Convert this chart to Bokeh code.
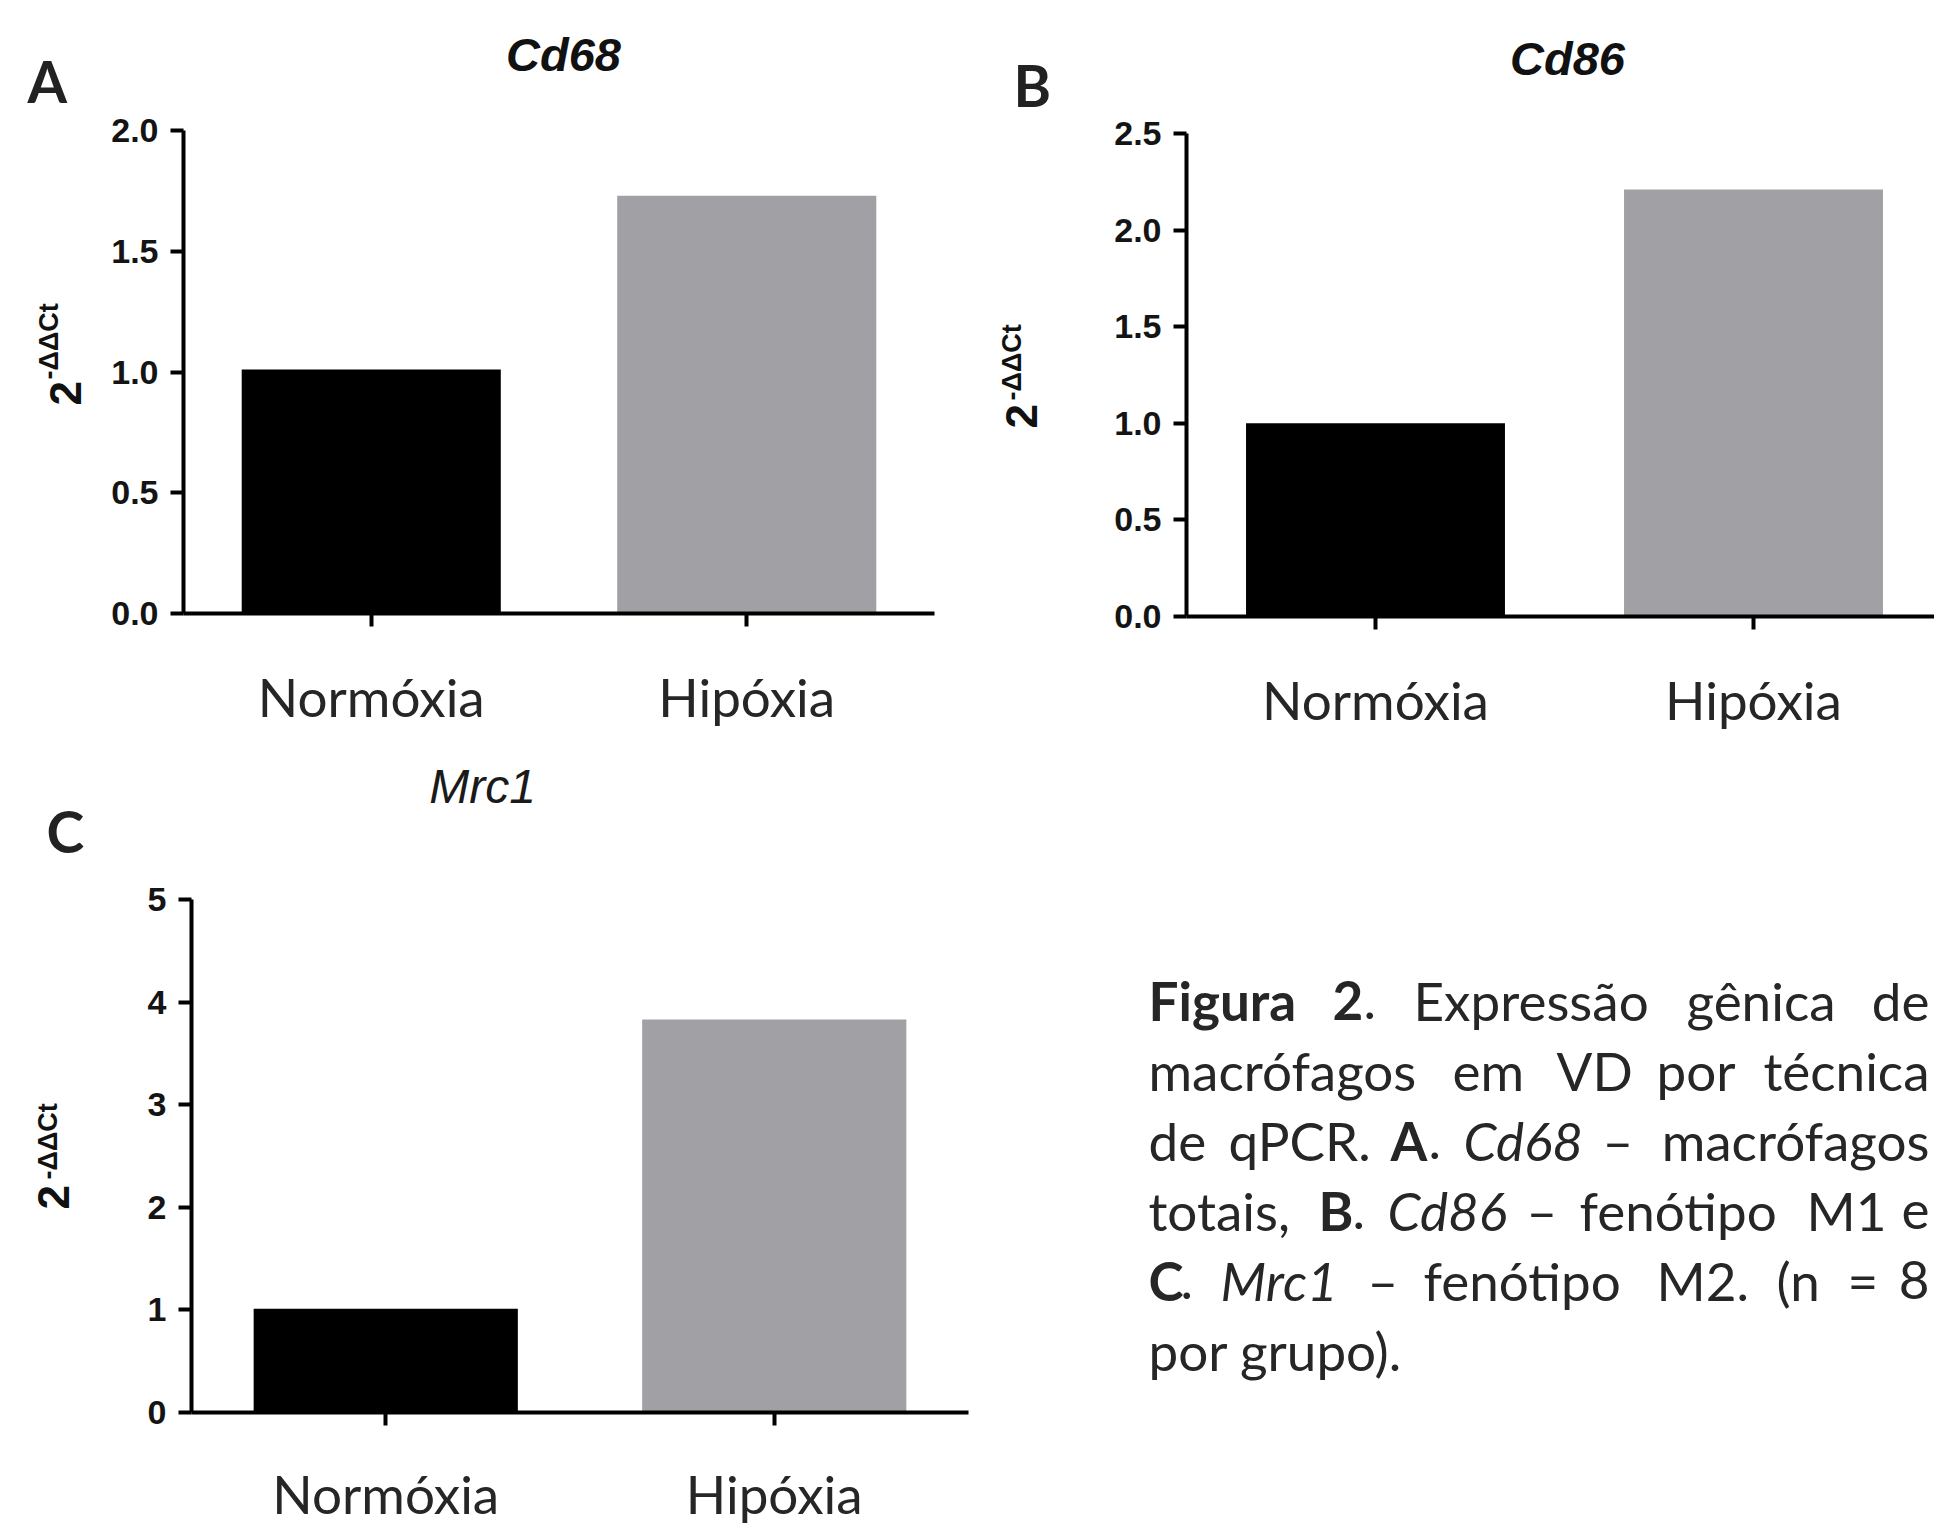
import math
from bokeh.plotting import figure
from bokeh.models import Range1d, FixedTicker, ColumnDataSource, NumeralTickFormatter
from bokeh.layouts import row, column
from bokeh.embed import file_html
from bokeh.resources import INLINE

# ---------------- data ----------------
categories = ["Normóxia", "Hipóxia"]
cd68_values = [1.01, 1.73]
cd86_values = [1.00, 2.21]
mrc1_values = [1.01, 3.83]
bar_colors = ["#000000", "#a1a0a5"]

cd68_ticks = [0.0, 0.5, 1.0, 1.5, 2.0]
cd86_ticks = [0.0, 0.5, 1.0, 1.5, 2.0, 2.5]
mrc1_ticks = [0, 1, 2, 3, 4, 5]

titles = ["Cd68", "Cd86", "Mrc1"]
panel_letters = ["A", "B", "C"]
ylabel_base = "2"
ylabel_sup = "-\u0394\u0394Ct"

caption_lines = [
    [("Figura", "bold"), ("2", "bold"), (".", "normal"), ("Expressão", "normal"), ("gênica", "normal"), ("de", "normal")],
    [("macrófagos", "normal"), ("em", "normal"), ("VD", "normal"), ("por", "normal"), ("técnica", "normal")],
    [("de", "normal"), ("qPCR.", "normal"), ("A", "bold"), (".", "normal"), ("Cd68", "italic"), ("–", "normal"), ("macrófagos", "normal")],
    [("totais,", "normal"), ("B", "bold"), (".", "normal"), ("Cd86", "italic"), ("–", "normal"), ("fenótipo", "normal"), ("M1", "normal"), ("e", "normal")],
    [("C", "bold"), (".", "normal"), ("Mrc1", "italic"), ("–", "normal"), ("fenótipo", "normal"), ("M2.", "normal"), ("(n", "normal"), ("=", "normal"), ("8", "normal")],
    [("por grupo).", "normal")],
]
# word start positions (page px) of the justified caption; None = right-aligned at the right margin
caption_x = [
    [1148, 1332, 1363, 1413, 1686, None],
    [1148, 1452, 1556, 1656, None],
    [1148, 1228, 1390, 1428, 1463, 1602, None],
    [1148, 1318, 1352, 1387, 1526, 1579, 1806, None],
    [1148, 1180, 1220, 1367, 1423, 1656, 1776, 1847, None],
    [1148],
]
caption_baselines = [1018, 1088, 1158, 1228, 1298, 1368]
CAPTION_RIGHT = 1929

ARIAL = "Liberation Sans"
CAL = "Lato"
CAL_SIZE = "53px"

# measured offset of the rendered baseline (fraction of the font size) to compensate
BASELINE_K = 0.34
BASELINE_K_ROT = 0.38


def draw_texts(p, items, conv=None):
    cols = dict(x=[], y=[], text=[], font=[], size=[], style=[], align=[], angle=[], color=[])
    for it in items:
        X, Y = it["X"], it["Y"]
        size = it.get("size", CAL_SIZE)
        px = float(size.replace("px", ""))
        ang = it.get("angle", 0.0)
        if ang == 0.0:
            Y = Y - BASELINE_K * px
        else:
            X = X - BASELINE_K_ROT * px
        if conv is not None:
            X, Y = conv(X, Y)
        cols["x"].append(X)
        cols["y"].append(Y)
        cols["text"].append(it["text"])
        cols["font"].append(it.get("font", CAL))
        cols["size"].append(size)
        cols["style"].append(it.get("style", "normal"))
        cols["align"].append(it.get("align", "left"))
        cols["angle"].append(ang)
        cols["color"].append(it.get("color", "#262626"))
    p.text(x="x", y="y", text="text", text_font="font", text_font_size="size",
           text_font_style="style", text_align="align", angle="angle",
           text_color="color", text_baseline="alphabetic", source=ColumnDataSource(cols))


def page_fig(x0, y0, w, h, bl=0, br=0):
    """A plain figure whose data coordinates are page pixels (y downwards)."""
    p = figure(width=w, height=h, x_range=Range1d(x0 + bl, x0 + w - br), y_range=Range1d(y0 + h, y0),
               min_border_left=bl, min_border_right=br, min_border_top=0, min_border_bottom=0,
               x_axis_location=None, y_axis_location=None, toolbar_location=None,
               output_backend="svg", title=None)
    p.grid.visible = False
    p.outline_line_color = None
    return p


def make_panel(values, ticks, ymax, px_per_unit, ox, oy, w, h, bl, br, bt, bb, bar_width, fmt,
               x_bounds=None, x_standoff=38):
    frame_w = w - bl - br
    xmax = frame_w / px_per_unit
    p = figure(width=w, height=h, x_range=Range1d(0, xmax), y_range=Range1d(0, ymax),
               min_border_left=bl, min_border_right=br, min_border_top=bt, min_border_bottom=bb,
               output_backend="svg", toolbar_location=None, title=None)
    xs = [i + 0.5 for i in range(len(categories))]
    src = ColumnDataSource(dict(x=xs, top=values, color=bar_colors, cat=categories))
    p.vbar(x="x", top="top", bottom=0, width=bar_width, source=src,
           fill_color="color", line_color=None)
    p.grid.visible = False
    p.outline_line_color = None
    for ax in (p.xaxis[0], p.yaxis[0]):
        ax.axis_line_width = 4
        ax.axis_line_color = "black"
        ax.major_tick_line_width = 4
        ax.major_tick_line_color = "black"
        ax.major_tick_out = 13
        ax.major_tick_in = 0
        ax.minor_tick_line_color = None
    if x_bounds is not None:
        p.xaxis.bounds = x_bounds
    p.xaxis.ticker = FixedTicker(ticks=xs)
    p.xaxis.major_label_overrides = {x: c for x, c in zip(xs, categories)}
    p.xaxis.major_label_text_font = CAL
    p.xaxis.major_label_text_font_size = CAL_SIZE
    p.xaxis.major_label_text_color = "#262626"
    p.xaxis.major_label_standoff = x_standoff
    p.yaxis.ticker = FixedTicker(ticks=ticks)
    p.yaxis.formatter = NumeralTickFormatter(format=fmt)
    p.yaxis.major_label_text_font = ARIAL
    p.yaxis.major_label_text_font_style = "bold"
    p.yaxis.major_label_text_font_size = "34px"
    p.yaxis.major_label_text_color = "#141414"
    p.yaxis.major_label_standoff = 12

    L = ox + bl
    B = oy + h - bb
    T = oy + bt

    def at(X, Y):
        return ((X - L) / px_per_unit, (B - Y) / (B - T) * ymax)
    return p, at


ROW1_H = 750
TITLE_H = 108

# ---------------- panel A ----------------
ylabA = page_fig(0, 0, 100, ROW1_H)
draw_texts(ylabA, [
    dict(X=27, Y=100, text=panel_letters[0], style="bold", size="57px", color="#222222"),
    dict(X=82, Y=405, text=ylabel_base, font=ARIAL, size="44px", style="bold", angle=math.pi / 2, color="#111111"),
    dict(X=59, Y=379, text=ylabel_sup, font=ARIAL, size="27px", style="bold", angle=math.pi / 2, color="#111111"),
])
titleA = page_fig(100, 0, 870, TITLE_H, bl=83, br=36)
draw_texts(titleA, [
    dict(X=563, Y=70, text=titles[0], font=ARIAL, size="47px", style="bold italic", align="center", color="#111111"),
])
pA, atA = make_panel(cd68_values, cd68_ticks, 2.0, 375.5, ox=100, oy=TITLE_H, w=870, h=ROW1_H - TITLE_H,
                     bl=83, br=36, bt=22, bb=ROW1_H - TITLE_H - 22 - 483, bar_width=0.69, fmt="0.0")

# ---------------- panel B ----------------
ylabB = page_fig(970, 0, 130, ROW1_H)
draw_texts(ylabB, [
    dict(X=1013, Y=104, text=panel_letters[1], style="bold", size="57px", color="#222222"),
    dict(X=1038, Y=428, text=ylabel_base, font=ARIAL, size="44px", style="bold", angle=math.pi / 2, color="#111111"),
    dict(X=1022, Y=400, text=ylabel_sup, font=ARIAL, size="27px", style="bold", angle=math.pi / 2, color="#111111"),
])
titleB = page_fig(1100, 0, 834, TITLE_H, bl=86, br=0)
draw_texts(titleB, [
    dict(X=1567, Y=74, text=titles[1], font=ARIAL, size="47px", style="bold italic", align="center", color="#111111"),
])
pB, atB = make_panel(cd86_values, cd86_ticks, 2.5, 378.0, ox=1100, oy=TITLE_H, w=834, h=ROW1_H - TITLE_H,
                     bl=86, br=0, bt=25, bb=ROW1_H - TITLE_H - 25 - 483, bar_width=0.685, fmt="0.0")

# ---------------- panel C (+ caption inside its frame) ----------------
ROW2_Y = ROW1_H
ROW2_H = 1527 - ROW1_H
TITLEC_H = 120
ylabC = page_fig(0, ROW2_Y, 100, ROW2_H)
draw_texts(ylabC, [
    dict(X=46, Y=850, text=panel_letters[2], style="bold", size="57px", color="#222222"),
    dict(X=70, Y=1209, text=ylabel_base, font=ARIAL, size="44px", style="bold", angle=math.pi / 2, color="#111111"),
    dict(X=58, Y=1179, text=ylabel_sup, font=ARIAL, size="27px", style="bold", angle=math.pi / 2, color="#111111"),
])
titleC = page_fig(100, ROW2_Y, 1834, TITLEC_H, bl=91, br=0)
draw_texts(titleC, [
    dict(X=482, Y=802, text=titles[2], font=ARIAL, size="48px", style="italic", align="center", color="#1a1a1a"),
])
pC_h = ROW2_H - TITLEC_H
pC, atC = make_panel(mrc1_values, mrc1_ticks, 5, 388.5, ox=100, oy=ROW2_Y + TITLEC_H, w=1834, h=pC_h,
                     bl=91, br=0, bt=29, bb=pC_h - 29 - 513, bar_width=0.68, fmt="0",
                     x_bounds=(0, 2), x_standoff=36)

cap_items = []
for words, xs_line, yb in zip(caption_lines, caption_x, caption_baselines):
    for (w_, st), xw in zip(words, xs_line):
        if xw is None:
            cap_items.append(dict(X=CAPTION_RIGHT, Y=yb, text=w_, style=st, align="right"))
        else:
            cap_items.append(dict(X=xw, Y=yb, text=w_, style=st, align="left"))
draw_texts(pC, cap_items, conv=atC)

layout = column(
    row(column(ylabA), column(titleA, pA), column(ylabB), column(titleB, pB), spacing=0),
    row(column(ylabC), column(titleC, pC), spacing=0),
    spacing=0,
)
open("out.html", "w").write(file_html(layout, INLINE))
